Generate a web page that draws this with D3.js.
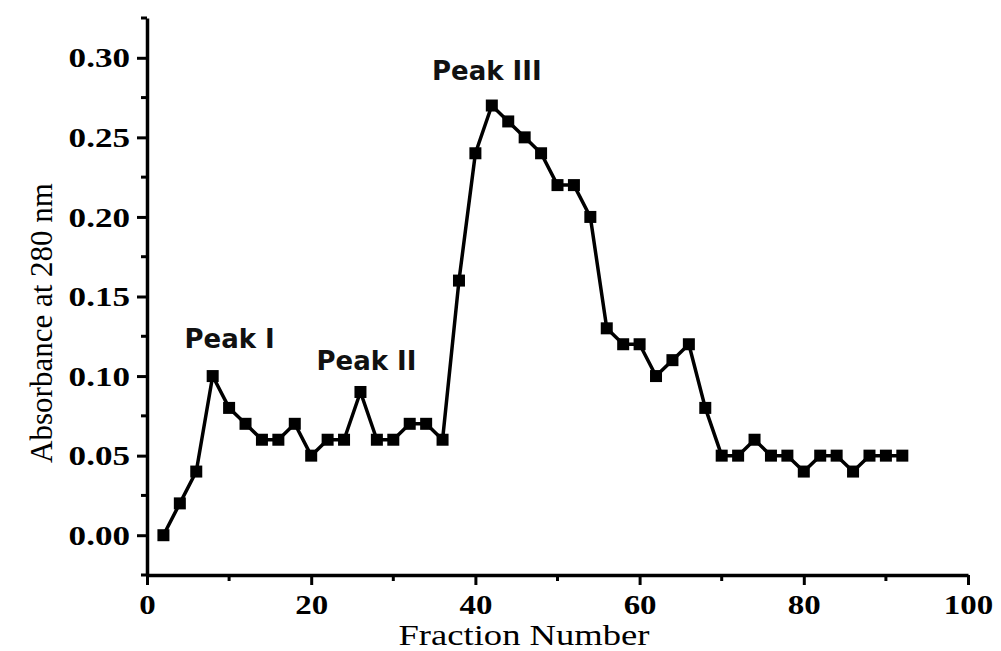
<!DOCTYPE html>
<html>
<head>
<meta charset="utf-8">
<script src="https://cdn.jsdelivr.net/npm/d3@7"></script>
<style>
  html, body { margin: 0; padding: 0; background: #fff; }
  svg { display: block; }
</style>
</head>
<body>
<svg id="chart" width="1001" height="651"></svg>
<script>
// Elution profile: absorbance at 280 nm for each collected fraction
const fractions = [2,4,6,8,10,12,14,16,18,20,22,24,26,28,30,32,34,36,38,40,42,44,46,48,
  50,52,54,56,58,60,62,64,66,68,70,72,74,76,78,80,82,84,86,88,90,92];
const absorbance = [0.00,0.02,0.04,0.10,0.08,0.07,0.06,0.06,0.07,0.05,0.06,0.06,0.09,0.06,
  0.06,0.07,0.07,0.06,0.16,0.24,0.27,0.26,0.25,0.24,0.22,0.22,0.20,0.13,0.12,0.12,0.10,
  0.11,0.12,0.08,0.05,0.05,0.06,0.05,0.05,0.04,0.05,0.05,0.04,0.05,0.05,0.05];

const xTicks = [0, 20, 40, 60, 80, 100];
const yTicks = [0.00, 0.05, 0.10, 0.15, 0.20, 0.25, 0.30];
const xMinorTicks = [10, 30, 50, 70, 90];
const yMinorTicks = [-0.025, 0.025, 0.075, 0.125, 0.175, 0.225, 0.275, 0.325];

// Peak annotations: label text and the fraction it sits above
const peakLabels = ["Peak I", "Peak II", "Peak III"];
const peakFractions = [8, 26, 42];

const svg = d3.select("#chart");
const x = d3.scaleLinear().domain([0, 100]).range([147, 968]);
const y = d3.scaleLinear().domain([-0.025, 0.325]).range([575, 18]);

const serif = "'Liberation Serif', 'Times New Roman', serif";
const sans = "'DejaVu Sans', Verdana, sans-serif";

// stretch a text node horizontally by a factor via textLength
function widen(sel, k) {
  sel.each(function() {
    const w = this.getComputedTextLength();
    d3.select(this).attr("textLength", w * k).attr("lengthAdjust", "spacingAndGlyphs");
  });
}

// Axes
const xAxis = svg.append("g")
  .attr("transform", `translate(0,${y(-0.025)})`)
  .call(d3.axisBottom(x).tickValues(xTicks).tickFormat(d3.format("d")).tickSize(10).tickSizeOuter(0).tickPadding(10));
xAxis.append("g").selectAll("line").data(xMinorTicks).join("line")
  .attr("x1", d => x(d)).attr("x2", d => x(d)).attr("y1", 0).attr("y2", 6)
  .attr("stroke", "#000").attr("stroke-width", 3);

const yAxis = svg.append("g")
  .attr("transform", `translate(${x(0)},0)`)
  .call(d3.axisLeft(y).tickValues(yTicks).tickFormat(d3.format(".2f")).tickSize(10).tickSizeOuter(0).tickPadding(7));
yAxis.append("g").selectAll("line").data(yMinorTicks).join("line")
  .attr("x1", 0).attr("x2", -6).attr("y1", d => y(d)).attr("y2", d => y(d))
  .attr("stroke", "#000").attr("stroke-width", 3);

[xAxis, yAxis].forEach(g => {
  g.select(".domain").attr("stroke", "#000").attr("stroke-width", 3.5);
  g.selectAll(".tick line").attr("stroke", "#000").attr("stroke-width", 3);
  g.selectAll(".tick text")
    .attr("fill", "#000")
    .style("font-family", serif)
    .style("font-weight", "bold")
    .style("font-size", "27px");
});
xAxis.selectAll(".tick text").attr("dy", "0.71em").call(widen, 1.22);
yAxis.selectAll(".tick text").attr("dy", "0.34em").call(widen, 1.3);

// Axis titles
svg.append("text")
  .attr("x", 524).attr("y", 645)
  .attr("text-anchor", "middle")
  .style("font-family", serif).style("font-size", "30px")
  .text("Fraction Number")
  .call(widen, 1.22);

svg.append("text")
  .attr("transform", "translate(52,323) rotate(-90)")
  .attr("text-anchor", "middle")
  .style("font-family", serif).style("font-size", "31px")
  .text("Absorbance at 280 nm");

// Data line and square markers
const pts = fractions.map((f, i) => [f, absorbance[i]]);
svg.append("path")
  .datum(pts)
  .attr("fill", "none")
  .attr("stroke", "#000")
  .attr("stroke-width", 3.5)
  .attr("stroke-linejoin", "round")
  .attr("d", d3.line().x(d => x(d[0])).y(d => y(d[1])));

const s = 12;
svg.append("g").selectAll("rect").data(pts).join("rect")
  .attr("x", d => x(d[0]) - s / 2)
  .attr("y", d => y(d[1]) - s / 2)
  .attr("width", s).attr("height", s)
  .attr("fill", "#000");

// Peak labels above their maxima
svg.append("g").selectAll("text").data(peakLabels).join("text")
  .attr("x", (d, i) => x(peakFractions[i]) + [17, 6, -5][i])
  .attr("y", (d, i) => y(absorbance[fractions.indexOf(peakFractions[i])]) - [28, 22, 26][i])
  .attr("text-anchor", "middle")
  .style("font-family", sans).style("font-weight", "bold").style("font-size", "26px")
  .attr("fill", "#111")
  .text(d => d);
</script>
</body>
</html>
